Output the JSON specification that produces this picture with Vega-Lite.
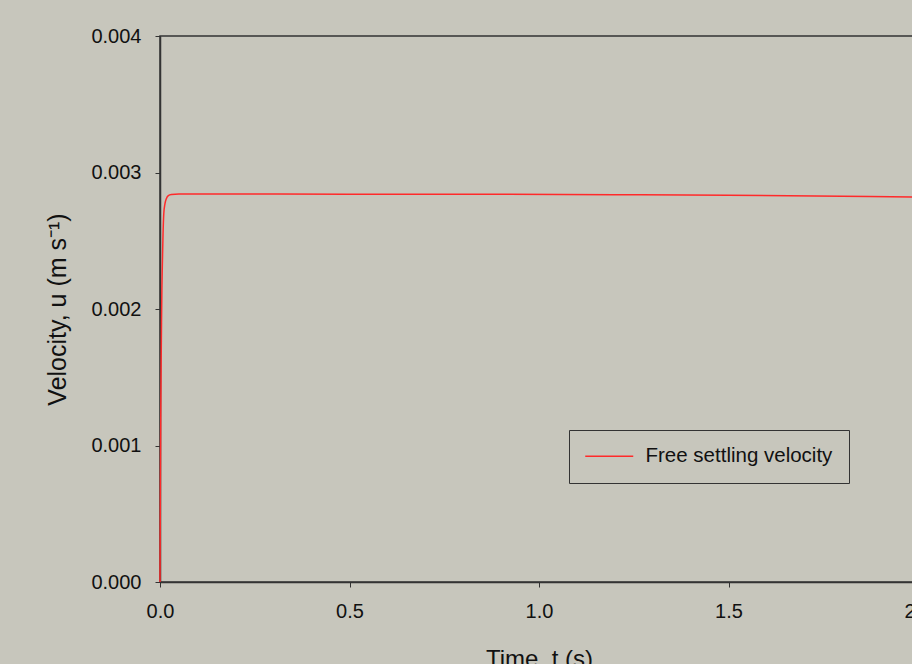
{
  "$schema": "https://vega.github.io/schema/vega-lite/v6.json",
  "width": 758,
  "height": 546,
  "autosize": {"type": "none"},
  "padding": {"left": 160, "top": 36, "right": 0, "bottom": 82},
  "background": "#c7c6bc",
  "config": {
    "font": "Liberation Sans",
    "view": {"stroke": "#333333", "strokeWidth": 1.5},
    "axis": {"grid": false, "labelFont": "Liberation Sans", "titleFont": "Liberation Sans", "labelColor": "#111111", "titleColor": "#111111", "titleFontWeight": "normal", "domainColor": "#333333", "tickColor": "#333333", "tickSize": 5, "labelFontSize": 20, "titleFontSize": 24, "domainWidth": 1.5, "labelFlush": false}
  },
  "data": {
    "values": [
      {"t": 0.0, "u": 0.0, "s": "Free settling velocity"},
      {"t": 0.001, "u": 0.0007, "s": "Free settling velocity"},
      {"t": 0.002, "u": 0.0012, "s": "Free settling velocity"},
      {"t": 0.003, "u": 0.0016, "s": "Free settling velocity"},
      {"t": 0.004, "u": 0.0019, "s": "Free settling velocity"},
      {"t": 0.005, "u": 0.00215, "s": "Free settling velocity"},
      {"t": 0.006, "u": 0.0023, "s": "Free settling velocity"},
      {"t": 0.008, "u": 0.00255, "s": "Free settling velocity"},
      {"t": 0.010, "u": 0.0027, "s": "Free settling velocity"},
      {"t": 0.013, "u": 0.00277, "s": "Free settling velocity"},
      {"t": 0.017, "u": 0.00281, "s": "Free settling velocity"},
      {"t": 0.022, "u": 0.00283, "s": "Free settling velocity"},
      {"t": 0.03, "u": 0.002838, "s": "Free settling velocity"},
      {"t": 0.05, "u": 0.002842, "s": "Free settling velocity"},
      {"t": 0.3, "u": 0.002842, "s": "Free settling velocity"},
      {"t": 0.6, "u": 0.002841, "s": "Free settling velocity"},
      {"t": 0.9, "u": 0.00284, "s": "Free settling velocity"},
      {"t": 1.2, "u": 0.002837, "s": "Free settling velocity"},
      {"t": 1.5, "u": 0.002833, "s": "Free settling velocity"},
      {"t": 1.8, "u": 0.002826, "s": "Free settling velocity"},
      {"t": 2.0, "u": 0.00282, "s": "Free settling velocity"}
    ]
  },
  "mark": {"type": "line", "strokeWidth": 1.5, "interpolate": "monotone"},
  "encoding": {
    "x": {"field": "t", "type": "quantitative", "scale": {"domain": [0, 2], "nice": false},
      "axis": {"title": "Time, t (s)", "values": [0, 0.5, 1, 1.5, 2], "format": ".1f", "labelPadding": 14, "titlePadding": 26}},
    "y": {"field": "u", "type": "quantitative", "scale": {"domain": [0, 0.004], "nice": false},
      "axis": {"title": "Velocity, u (m s⁻¹)", "values": [0, 0.001, 0.002, 0.003, 0.004], "format": ".3f", "labelPadding": 14, "titlePadding": 20, "titleFontSize": 25}},
    "color": {"field": "s", "type": "nominal", "scale": {"domain": ["Free settling velocity"], "range": ["#ff2a2a"]},
      "legend": {"title": null, "orient": "none", "legendX": 409, "legendY": 394, "padding": 16, "strokeColor": "#333333", "fillColor": "#c7c6bc", "symbolType": "M-1.667,0H6.333", "symbolSize": 144, "symbolStrokeWidth": 1.5, "labelFontSize": 20.5, "labelLimit": 400, "labelColor": "#111111", "labelOffset": 40}}
  }
}
